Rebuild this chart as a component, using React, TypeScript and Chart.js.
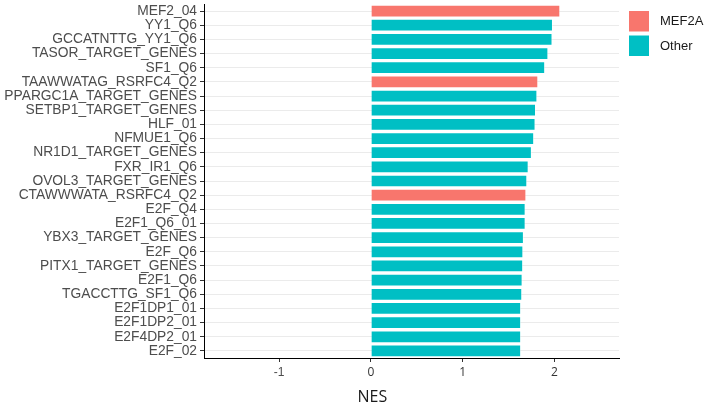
import React, { useEffect, useRef } from "react";
import { Chart, registerables } from "chart.js";

Chart.register(...registerables);

const categories = [
  "MEF2_04",
  "YY1_Q6",
  "GCCATNTTG_YY1_Q6",
  "TASOR_TARGET_GENES",
  "SF1_Q6",
  "TAAWWATAG_RSRFC4_Q2",
  "PPARGC1A_TARGET_GENES",
  "SETBP1_TARGET_GENES",
  "HLF_01",
  "NFMUE1_Q6",
  "NR1D1_TARGET_GENES",
  "FXR_IR1_Q6",
  "OVOL3_TARGET_GENES",
  "CTAWWWATA_RSRFC4_Q2",
  "E2F_Q4",
  "E2F1_Q6_01",
  "YBX3_TARGET_GENES",
  "E2F_Q6",
  "PITX1_TARGET_GENES",
  "E2F1_Q6",
  "TGACCTTG_SF1_Q6",
  "E2F1DP1_01",
  "E2F1DP2_01",
  "E2F4DP2_01",
  "E2F_02",
];

const nesValues = [
  2.065, 1.985, 1.98, 1.935, 1.9, 1.825, 1.815, 1.8, 1.795, 1.78, 1.755, 1.72,
  1.705, 1.695, 1.687, 1.687, 1.668, 1.662, 1.66, 1.654, 1.65, 1.638, 1.638,
  1.638, 1.638,
];

const groups = [
  "MEF2A", "Other", "Other", "Other", "Other", "MEF2A", "Other", "Other",
  "Other", "Other", "Other", "Other", "Other", "MEF2A", "Other", "Other",
  "Other", "Other", "Other", "Other", "Other", "Other", "Other", "Other",
  "Other",
];

const groupNames = ["MEF2A", "Other"];
const groupColors: Record<string, string> = { MEF2A: "#F8766D", Other: "#00BFC4" };
const xTickValues = [-1, 0, 1, 2];
const xMin = -1.82;
const xMax = 2.705;
const xTitle = "NES";

const overlayPlugin = {
  id: "overlay",
  afterDraw(chart: any) {
    const ctx = chart.ctx as CanvasRenderingContext2D;
    ctx.save();
    groupNames.forEach((g, i) => {
      const y = 11 + i * 24.5;
      ctx.fillStyle = groupColors[g];
      ctx.fillRect(629, y, 20, 20.5);
      ctx.fillStyle = "#1a1a1a";
      ctx.font = "13px 'Liberation Sans', Arial, sans-serif";
      ctx.textAlign = "left";
      ctx.textBaseline = "middle";
      ctx.fillText(g, 660, y + 10.5);
    });
    const xs = chart.scales.x;
    ctx.fillStyle = "#1a1a1a";
    ctx.font = "16px 'Open Sans', sans-serif";
    ctx.textAlign = "center";
    ctx.textBaseline = "middle";
    ctx.fillText(xTitle, xs.getPixelForValue(0) + 1.5, 397.5);
    ctx.restore();
  },
};

export default function App() {
  const canvasRef = useRef<HTMLCanvasElement | null>(null);

  useEffect(() => {
    if (!canvasRef.current) return;
    const chart = new Chart(canvasRef.current, {
      type: "bar",
      data: {
        labels: categories,
        datasets: [
          {
            data: nesValues,
            backgroundColor: groups.map((g) => groupColors[g]),
            borderColor: "rgba(255,255,255,0.45)",
            borderWidth: 1,
            barPercentage: 0.9,
            categoryPercentage: 1,
          },
        ],
      },
      options: {
        indexAxis: "y",
        responsive: false,
        animation: false,
        devicePixelRatio: 1,
        layout: { padding: { left: 0, right: 89, top: 4, bottom: 0 } },
        plugins: {
          legend: { display: false },
          tooltip: { enabled: false },
        },
        scales: {
          x: {
            type: "linear",
            min: xMin,
            max: xMax,
            afterBuildTicks: (scale: any) => {
              scale.ticks = xTickValues.map((v) => ({ value: v }));
            },
            afterFit: (scale: any) => {
              scale.height = 49;
              scale.paddingLeft = 0;
              scale.paddingRight = 0;
            },
            grid: {
              drawOnChartArea: false,
              drawTicks: true,
              tickLength: 4,
              tickColor: "#333333",
            },
            border: { display: true, color: "#000000", width: 1 },
            ticks: {
              padding: 3,
              color: (c: any) => (c.tick && c.tick.value === -1 ? "#4D4D4D" : "#333333"),
              font: (c: any) =>
                c.tick && c.tick.value === -1
                  ? { family: "'Liberation Sans', Arial, sans-serif", size: 12 }
                  : { family: "'Open Sans', sans-serif", size: 12 },
              callback: (v: any) => String(v),
            },
          },
          y: {
            type: "category",
            offset: true,
            afterFit: (scale: any) => {
              scale.width = 204;
              scale.paddingTop = 0;
              scale.paddingBottom = 0;
            },
            grid: {
              offset: false,
              color: "#EBEBEB",
              lineWidth: 1,
              drawTicks: true,
              tickLength: 4,
              tickColor: "#333333",
            },
            border: { display: true, color: "#000000", width: 1 },
            ticks: {
              padding: 3,
              autoSkip: false,
              color: "#4D4D4D",
              font: { family: "'Liberation Sans', Arial, sans-serif", size: 13.8 },
            },
          },
        },
      },
      plugins: [overlayPlugin],
    });
    return () => chart.destroy();
  }, []);

  return (
    <div style={{ position: "absolute", left: 0, top: 0, width: 708, height: 407, background: "#fff" }}>
      <canvas ref={canvasRef} width={708} height={407} style={{ display: "block" }} />
    </div>
  );
}
